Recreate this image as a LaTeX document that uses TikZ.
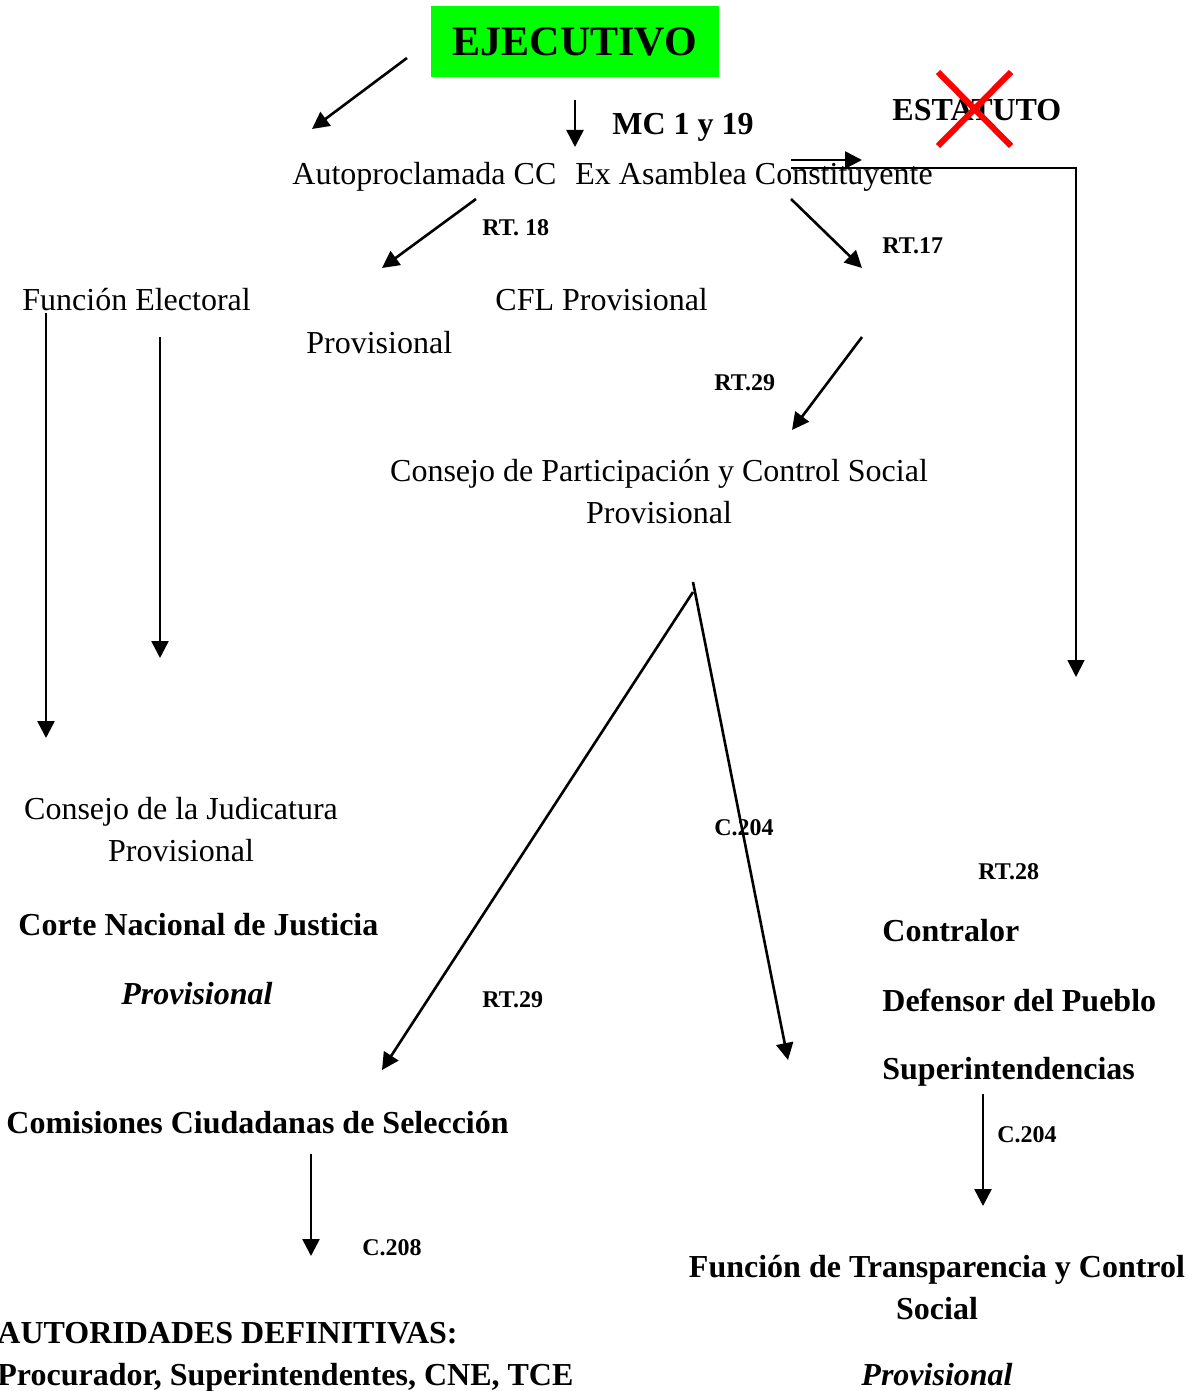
\documentclass[tikz,border=0pt]{standalone}
\usepackage{fontspec}
\setmainfont{Liberation Serif}
\usetikzlibrary{arrows.meta,positioning}
\definecolor{ejecGreen}{HTML}{00FF00}
\definecolor{crossRed}{HTML}{FF0000}

\begin{document}
\begin{tikzpicture}[x=0.5pt,y=-0.5pt,
  txt/.style={inner sep=0pt,anchor=west,font=\fontsize{16}{21}\selectfont},
  bld/.style={txt,font=\fontsize{16}{21}\selectfont\bfseries},
  ref/.style={inner sep=0pt,anchor=west,font=\fontsize{12}{14}\selectfont\bfseries},
  arr/.style={-{Triangle[length=8.5pt,width=8.5pt]},line width=1.3pt}]
  \useasboundingbox (0,0) rectangle (1194,1391);

  % top
  \node[fill=ejecGreen,minimum width=144pt,minimum height=35.5pt,
        font=\fontsize{21}{25}\selectfont\bfseries] (ejec) at (575,41.5) {EJECUTIVO};
  \node[bld] (mc) at (612,127) {MC 1 y 19};
  \node[bld] (estat) at (892,110) {ESTATUTO};
  \draw[crossRed,line width=3pt] (938,72) -- (1011,146) (1011,72) -- (938,146);
  \node[txt] (autocc) at (292,177) {Autoproclamada CC};
  \node[txt] (exasam) at (575,177) {Ex Asamblea Constituyente};

  % middle
  \node[ref] (rt18) at (482,228) {RT. 18};
  \node[ref] (rt17) at (882,246) {RT.17};
  \node[txt] (felec) at (22,300) {Función Electoral};
  \node[txt] (cfl) at (495,300) {CFL Provisional};
  \node[txt] (provcc) at (306,343) {Provisional};
  \node[ref] (rt29a) at (714,383) {RT.29};
  \node[txt,anchor=center,align=center] (cpccs) at (659,492)
    {Consejo de Participación y Control Social\\Provisional};

  % left column
  \node[txt,anchor=center,align=center] (cjud) at (181,830)
    {Consejo de la Judicatura\\Provisional};
  \node[bld] (cnj) at (18,925) {Corte Nacional de Justicia};
  \node[bld,anchor=center,font=\fontsize{16}{21}\selectfont\bfseries\itshape] (provcnj) at (197,994) {Provisional};
  \node[ref] (rt29b) at (482,1000) {RT.29};
  \node[bld] (comis) at (6,1123) {Comisiones Ciudadanas de Selección};
  \node[ref] (c208) at (362,1248) {C.208};
  \node[bld,align=left] (autdef) at (-3,1357)
    {AUTORIDADES DEFINITIVAS:\\Procurador, Superintendentes, CNE, TCE};

  % right column
  \node[ref] (c204a) at (714,828) {C.204};
  \node[ref] (rt28) at (978,872) {RT.28};
  \node[bld] (contr) at (882,931) {Contralor};
  \node[bld] (defens) at (882,1000) {Defensor del Pueblo};
  \node[bld] (superint) at (882,1072) {Superintendencias};
  \node[ref] (c204b) at (997,1135) {C.204};
  \node[bld,anchor=center,align=center] (ftcs) at (937,1288)
    {Función de Transparencia y Control\\Social};
  \node[bld,anchor=center,font=\fontsize{16}{21}\selectfont\bfseries\itshape] (provftcs) at (937,1375) {Provisional};

  % arrow ends
  \coordinate (ejA) at (407,58);   \coordinate (ejB) at (312,129);
  \coordinate (mcA) at (575,100);  \coordinate (mcB) at (575,147);
  \coordinate (ccA) at (476,199);  \coordinate (ccB) at (382,268);
  \coordinate (exA) at (791,199);  \coordinate (exB) at (862,268);
  \coordinate (stA) at (791,160);  \coordinate (stB) at (862,160);
  \coordinate (lnA) at (791,168);  \coordinate (lnC) at (1076,168);
  \coordinate (lnB) at (1076,677);
  \coordinate (feA) at (46,313);   \coordinate (feB) at (46,738);
  \coordinate (fe2A) at (160,337); \coordinate (fe2B) at (160,658);
  \coordinate (cpA) at (862,337);  \coordinate (cpB) at (792,430);
  \coordinate (spA) at (693,582);  \coordinate (spB) at (788,1060);
  \coordinate (sp2A) at (693,592); \coordinate (sp2B) at (382,1070);
  \coordinate (suA) at (983,1094); \coordinate (suB) at (983,1206);
  \coordinate (coA) at (311,1154); \coordinate (coB) at (311,1256);

  \draw[arr] (ejA) -- (ejB);
  \draw[arr] (mcA) -- (mcB);
  \draw[arr] (ccA) -- (ccB);
  \draw[arr] (exA) -- (exB);
  \draw[arr] (stA) -- (stB);
  \draw[arr,line width=0.9pt] (lnA) -- (lnC) -- (lnB);
  \draw[arr] (feA) -- (feB);
  \draw[arr] (fe2A) -- (fe2B);
  \draw[arr] (cpA) -- (cpB);
  \draw[arr] (spA) -- (spB);
  \draw[arr] (sp2A) -- (sp2B);
  \draw[arr] (suA) -- (suB);
  \draw[arr] (coA) -- (coB);
\end{tikzpicture}
\end{document}
